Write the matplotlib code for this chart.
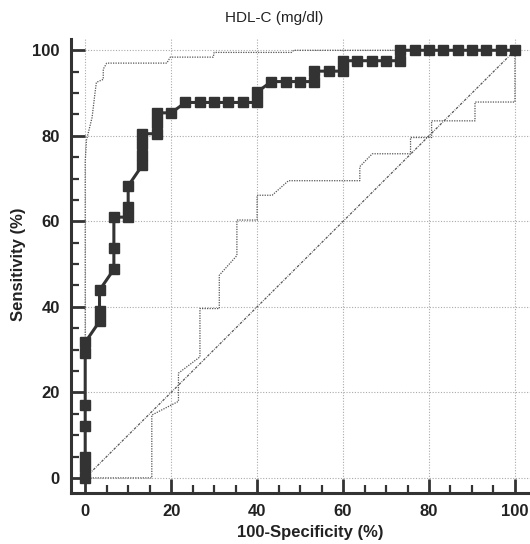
import matplotlib
matplotlib.use("Agg")
import matplotlib.pyplot as plt
from matplotlib.ticker import MultipleLocator

plt.rcParams['font.family'] = ['Liberation Sans', 'DejaVu Sans']

# ROC curve points (100-Specificity, Sensitivity)
roc_fpr = [0, 0, 0, 0, 0, 0, 0,
           3.33, 3.33, 3.33,
           6.67, 6.67, 6.67,
           10, 10, 10,
           13.33, 13.33, 13.33, 13.33,
           16.67, 16.67, 16.67,
           20,
           23.33, 26.67, 30, 33.33, 36.67,
           40, 40,
           43.33, 46.67, 50,
           53.33, 53.33,
           56.67,
           60, 60,
           63.33, 66.67, 70,
           73.33, 73.33,
           76.67, 80, 83.33, 86.67, 90, 93.33, 96.67, 100]
roc_tpr = [0, 2.44, 4.88, 12.2, 17.07, 29.27, 31.71,
           36.59, 39.02, 43.9,
           48.78, 53.66, 60.98,
           60.98, 63.41, 68.29,
           73.17, 75.61, 78.05, 80.49,
           80.49, 82.93, 85.37,
           85.37,
           87.8, 87.8, 87.8, 87.8, 87.8,
           87.8, 90.24,
           92.68, 92.68, 92.68,
           92.68, 95.12,
           95.12,
           95.12, 97.56,
           97.56, 97.56, 97.56,
           97.56, 100,
           100, 100, 100, 100, 100, 100, 100, 100]

# Upper 95% confidence bound
upper_x = [0, 0, 0.3, 1.6, 2.3, 2.6, 4.2, 4.2, 5, 19, 19.8, 29.8, 30, 48, 48.5, 100]
upper_y = [0, 74, 79, 84.3, 90.2, 92.5, 93.2, 95.6, 97, 97, 98.4, 98.4, 99.5, 99.5, 100, 100]

# Lower 95% confidence bound
lower_x = [0, 15.5, 15.5, 21.7, 21.7, 26.7, 26.7, 31.2, 31.2, 35.3, 35.3, 40, 40, 43.5,
           47.3, 63.9, 63.9, 66.8, 75.7, 75.7, 80.6, 80.6, 90.7, 90.7, 100, 100]
lower_y = [0, 0, 14.7, 17.9, 24.5, 28.3, 39.6, 39.6, 47.4, 52.0, 60.3, 60.3, 66.1, 66.1,
           69.5, 69.5, 72.8, 75.8, 75.8, 79.6, 79.6, 83.5, 83.5, 87.9, 87.9, 100]

# Reference diagonal
diag_x = [0, 100]
diag_y = [0, 100]

title = "HDL-C (mg/dl)"
xlabel = "100-Specificity (%)"
ylabel = "Sensitivity (%)"
ticks = [0, 20, 40, 60, 80, 100]

dark = "#333333"

fig = plt.figure(figsize=(5.30, 5.44), dpi=100)
ax = fig.add_axes([0.134, 0.094, 0.866, 0.834])
ax.set_xlim(-3.3, 103.5)
ax.set_ylim(-3.5, 102.6)

ax.set_xticks(ticks)
ax.set_yticks(ticks)
ax.xaxis.set_minor_locator(MultipleLocator(5))
ax.yaxis.set_minor_locator(MultipleLocator(5))
ax.grid(True, which='major', color='#aaaaaa', linestyle=(0, (1, 1.5)), linewidth=0.8)
ax.set_axisbelow(True)

for s in ['top', 'right']:
    ax.spines[s].set_visible(False)
for s in ['left', 'bottom']:
    ax.spines[s].set_linewidth(2.2)
    ax.spines[s].set_color(dark)

ax.tick_params(which='major', direction='in', length=10, width=2, color=dark, pad=8,
               labelsize=12, labelcolor='#222222')
ax.tick_params(which='minor', direction='in', length=5.5, width=1.6, color=dark)
for lab in ax.get_xticklabels() + ax.get_yticklabels():
    lab.set_fontweight('bold')

ax.plot(diag_x, diag_y, color='#555555', linewidth=0.9, linestyle=(0, (2, 1, 0.6, 1)))
ax.plot(upper_x, upper_y, color='#555555', linewidth=0.9, linestyle=(0, (1, 1)))
ax.plot(lower_x, lower_y, color='#555555', linewidth=0.9, linestyle=(0, (1, 1)))

ax.plot(roc_fpr, roc_tpr, color=dark, linewidth=2.2, marker='s', markersize=7.5,
        markerfacecolor=dark, markeredgecolor=dark, clip_on=False, zorder=5)

fig.text(0.517, 0.967, title, ha='center', va='center', fontsize=11, color='#222222')
fig.text(0.585, 0.022, xlabel, ha='center', va='center', fontsize=12, fontweight='bold',
         color='#222222')
fig.text(0.034, 0.515, ylabel, ha='center', va='center', rotation=90, fontsize=12,
         fontweight='bold', color='#222222')

fig.savefig("out.png", dpi=100)
